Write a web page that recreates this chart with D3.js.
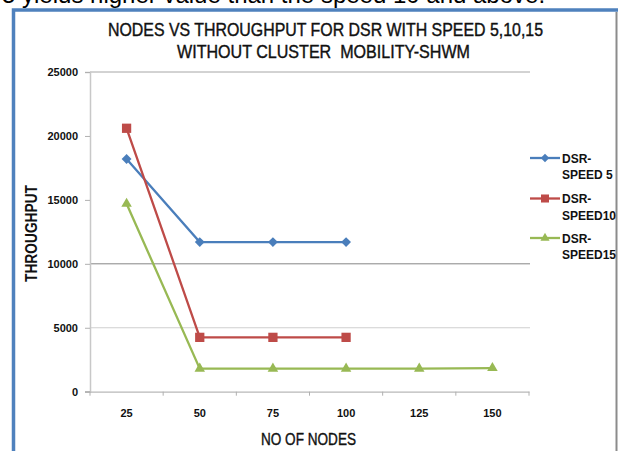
<!DOCTYPE html>
<html>
<head>
<meta charset="utf-8">
<script src="https://cdn.jsdelivr.net/npm/d3@7"></script>
<style>
  body { margin: 0; background: #fff; }
  svg { display: block; }
  text { font-family: "Liberation Sans", Arial, sans-serif; }
</style>
</head>
<body>
<svg id="chart" width="618" height="451"></svg>
<script>
// Data
const nodes = ["25", "50", "75", "100", "125", "150"];
const speed5 = [18200, 11700, 11700, 11700, null, null];
const speed10 = [20600, 4250, 4250, 4250, null, null];
const speed15 = [14700, 1800, 1800, 1800, 1800, 1850];
const yTicks = [0, 5000, 10000, 15000, 20000, 25000];
const gridValues = [5000, 10000, 25000];
const seriesNames = [["DSR-", "SPEED 5"], ["DSR-", "SPEED10"], ["DSR-", "SPEED15"]];

const svg = d3.select("#chart");

// cropped caption from the page above the figure
svg.append("text")
  .attr("x", 2).attr("y", 3)
  .attr("font-size", 24)
  .text("5 yields higher value than the speed 10 and above.");

// figure frame
svg.append("rect")
  .attr("x", 13.5).attr("y", 10)
  .attr("width", 620).attr("height", 460)
  .attr("fill", "#fff")
  .attr("stroke", "#4f81bd").attr("stroke-width", 3.5);
svg.append("line")
  .attr("x1", 616.5).attr("x2", 616.5).attr("y1", 12).attr("y2", 451)
  .attr("stroke", "#8c8c8c").attr("stroke-width", 2);

const x = d3.scaleBand().domain(nodes).range([90, 529]);
const y = d3.scaleLinear().domain([0, 25000]).range([391.7, 72]);

// gridlines
svg.append("g")
  .selectAll("line")
  .data(gridValues)
  .join("line")
  .attr("x1", 90).attr("x2", 530)
  .attr("y1", (d) => y(d)).attr("y2", (d) => y(d))
  .attr("stroke", (d) => (d === 10000 ? "#858585" : d === 25000 ? "#a6a6a6" : "#cfcfcf"))
  .attr("stroke-width", 1);

// y axis
const yAxis = svg.append("g")
  .attr("transform", "translate(90,0)")
  .call(d3.axisLeft(y).tickValues(yTicks).tickFormat(d3.format("d")).tickSize(5).tickPadding(7));
yAxis.select(".domain").attr("stroke", "#c8c8c8").attr("stroke-width", 1.5);
yAxis.selectAll(".tick line").attr("stroke", "#b0b0b0");
yAxis.selectAll(".tick text")
  .attr("font-size", 11).attr("font-weight", "bold").attr("fill", "#111")
  .style("font-family", "Liberation Sans, Arial, sans-serif");

// x axis
const xAxis = svg.append("g")
  .attr("transform", `translate(0,${y(0)})`)
  .call(d3.axisBottom(x).tickSize(0).tickPadding(18));
xAxis.select(".domain").attr("stroke", "#b8b8b8").attr("stroke-width", 1.2);
xAxis.selectAll(".tick text")
  .attr("font-size", 11).attr("font-weight", "bold").attr("fill", "#111")
  .style("font-family", "Liberation Sans, Arial, sans-serif");
// boundary ticks between categories
svg.append("g")
  .selectAll("line")
  .data(nodes.concat([""]))
  .join("line")
  .attr("x1", (d, i) => x.range()[0] + i * x.step())
  .attr("x2", (d, i) => x.range()[0] + i * x.step())
  .attr("y1", y(0)).attr("y2", y(0) + 4)
  .attr("stroke", "#b0b0b0");
svg.append("line")
  .attr("x1", 85).attr("x2", 90).attr("y1", y(0)).attr("y2", y(0))
  .attr("stroke", "#b0b0b0");

// titles (narrow face, squeezed to the reference widths)
svg.append("text")
  .attr("x", 108).attr("y", 35.7)
  .attr("font-size", 18).attr("fill", "#111")
  .attr("stroke", "#111").attr("stroke-width", 0.4)
  .attr("textLength", 435).attr("lengthAdjust", "spacingAndGlyphs")
  .text("NODES VS THROUGHPUT FOR DSR WITH SPEED 5,10,15");
svg.append("text")
  .attr("x", 177).attr("y", 58.3)
  .attr("font-size", 18).attr("fill", "#111")
  .attr("stroke", "#111").attr("stroke-width", 0.4)
  .attr("textLength", 293).attr("lengthAdjust", "spacingAndGlyphs")
  .attr("xml:space", "preserve")
  .text("WITHOUT CLUSTER  MOBILITY-SHWM");
svg.append("text")
  .attr("x", 261).attr("y", 445)
  .attr("font-size", 17).attr("fill", "#111")
  .attr("stroke", "#111").attr("stroke-width", 0.4)
  .attr("textLength", 95).attr("lengthAdjust", "spacingAndGlyphs")
  .text("NO OF NODES");
svg.append("text")
  .attr("transform", "translate(36.5,282) rotate(-90)")
  .attr("font-size", 16).attr("font-weight", "bold").attr("fill", "#111")
  .attr("textLength", 97).attr("lengthAdjust", "spacingAndGlyphs")
  .text("THROUGHPUT");

// series
const colors = ["#4a7ebb", "#be4b48", "#98b954"];
const seriesData = [speed5, speed10, speed15].map((vals) =>
  vals.map((v, i) => ({ n: nodes[i], v })).filter((d) => d.v !== null)
);
const symbols = [d3.symbolDiamond2 || d3.symbolDiamond, d3.symbolSquare, d3.symbolTriangle];
const symSize = [62, 86, 48];
const line = d3.line()
  .x((d) => x(d.n) + x.bandwidth() / 2)
  .y((d) => y(d.v));

seriesData.forEach((pts, s) => {
  svg.append("path")
    .datum(pts)
    .attr("d", line)
    .attr("fill", "none")
    .attr("stroke", colors[s])
    .attr("stroke-width", 2.3);
  svg.append("g")
    .selectAll("path")
    .data(pts)
    .join("path")
    .attr("transform", (d) => `translate(${x(d.n) + x.bandwidth() / 2},${y(d.v)})`)
    .attr("d", d3.symbol(symbols[s], symSize[s]))
    .attr("fill", colors[s]);
});

// legend
const legendY = [158, 198.5, 238];
const legend = svg.append("g");
seriesNames.forEach((name, s) => {
  const g = legend.append("g").attr("transform", `translate(530,${legendY[s]})`);
  g.append("line").attr("x1", 0).attr("x2", 30).attr("stroke", colors[s]).attr("stroke-width", 2.3);
  g.append("path").attr("transform", "translate(15,0)")
    .attr("d", d3.symbol(symbols[s], symSize[s] * 0.75)).attr("fill", colors[s]);
  g.append("text").attr("x", 32).attr("y", 4.5)
    .attr("font-size", 12).attr("font-weight", "bold").attr("fill", "#111")
    .text(name[0]);
  g.append("text").attr("x", 32).attr("y", 21)
    .attr("font-size", 12).attr("font-weight", "bold").attr("fill", "#111")
    .text(name[1]);
});
</script>
</body>
</html>
